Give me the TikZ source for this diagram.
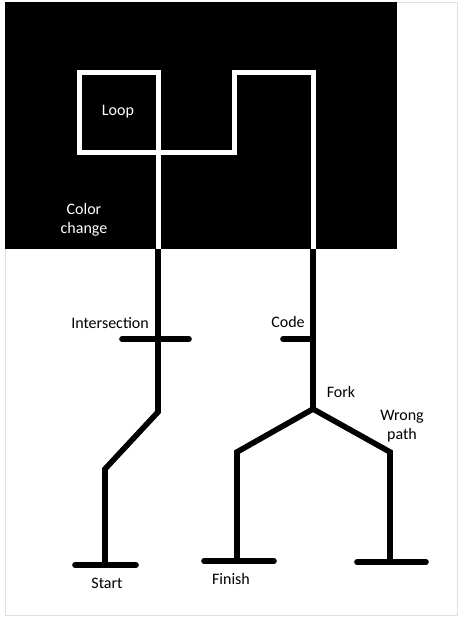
\documentclass[tikz,border=0pt]{standalone}
\usepackage{fontspec}
\setmainfont{Carlito}
\tikzset{
	track/.style={line width=4.2pt, line join=miter},
	bar/.style={line width=4.2pt, line cap=round},
	lbl/.style={inner sep=0pt, align=center, font=\fontsize{12}{14.5}\selectfont}
}
\begin{document}
\begin{tikzpicture}[x=0.75pt, y=-0.75pt]
		\useasboundingbox (0,0) rectangle (464,622);
		\draw[gray!25, line width=0.6pt] (5,2) rectangle (457,615);
		\fill[black] (5,2) rectangle (397,249);
		
		% white part of the track
		\coordinate (leftin) at (158,249);
		\coordinate (rightin) at (313,249);
		\draw[track, white, line width=3.75pt] (leftin) -- (158,72) -- (79,72) -- (79,152) -- (234,152) -- (234,72) -- (313,72) -- (rightin);
		
		% left track
		\coordinate (bend) at (158,412);
		\coordinate (knee) at (105,469);
		\coordinate (start) at (105,565);
		\draw[track] (leftin) -- (bend) -- (knee) -- (start);
		\draw[bar] (75,565) -- (136,565);
		\draw[bar] (122,339) -- (189,339);
		
		% right track
		\coordinate (fork) at (313,409);
		\coordinate (finishtop) at (237,452);
		\coordinate (finish) at (237,561);
		\coordinate (wrongtop) at (390,452);
		\coordinate (wrong) at (390,562);
		\draw[track] (rightin) -- (fork);
		\draw[track] (finish) -- (finishtop) -- (fork) -- (wrongtop) -- (wrong);
		\draw[bar] (283,339) -- (313,339);
		\draw[bar] (204,561) -- (274,561);
		\draw[bar] (357,562) -- (426,562);
		
		\node[lbl, white] (loop) at (118,112){Loop};
		\node[lbl, white] (color) at (84,220){Color\\change};
		\node[lbl] (inter) at (110,323){Intersection};
		\node[lbl] (code) at (288,322){Code};
		\node[lbl] (forklbl) at (341,392){Fork};
		\node[lbl] (wronglbl) at (402,426){Wrong\\path};
		\node[lbl] (startlbl) at (107,583){Start};
		\node[lbl] (finishlbl) at (231,579){Finish};
	\end{tikzpicture}
\end{document}
